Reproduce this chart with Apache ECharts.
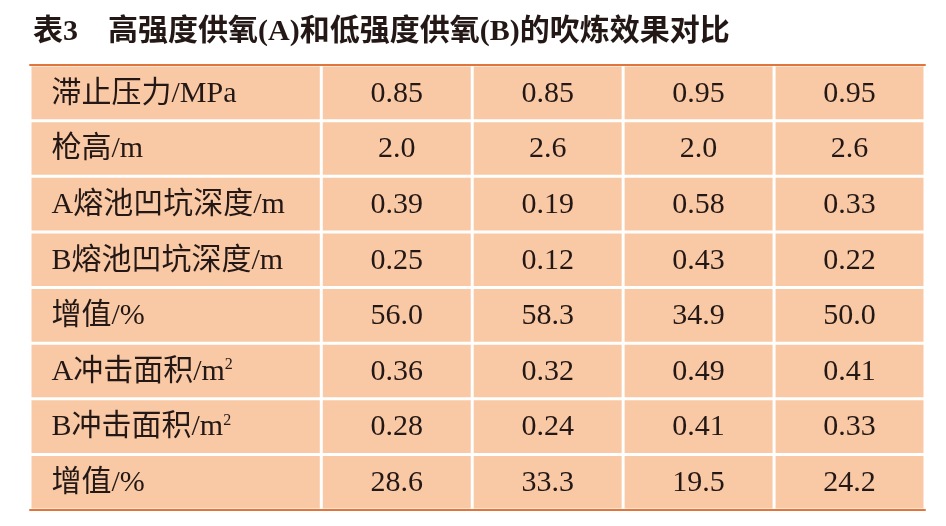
<!DOCTYPE html><html><head><meta charset="utf-8"><script src="https://cdn.jsdelivr.net/npm/echarts@6/dist/echarts.min.js"></script>
<style>html,body{margin:0;background:#fff}#c{width:946px;height:526px}</style></head><body><div id="c"></div><script>
const title='表3　高强度供氧(A)和低强度供氧(B)的吹炼效果对比';
const rowLabels=['滞止压力/MPa','枪高/m','A熔池凹坑深度/m','B熔池凹坑深度/m','增值/%','A冲击面积/m{sup|2}','B冲击面积/m{sup|2}','增值/%'];
const col1=['0.85','2.0','0.39','0.25','56.0','0.36','0.28','28.6'];
const col2=['0.85','2.6','0.19','0.12','58.3','0.32','0.24','33.3'];
const col3=['0.95','2.0','0.58','0.43','34.9','0.49','0.41','19.5'];
const col4=['0.95','2.6','0.33','0.22','50.0','0.41','0.33','24.2'];
const cols=[rowLabels,col1,col2,col3,col4];
const edges=[0,1.93,2.93,3.93,4.93,5.93];
const data=[];
cols.forEach((c,ci)=>c.forEach((v,ri)=>data.push([ci,ri,v])));
const ch=echarts.init(document.getElementById('c'));
ch.setOption({
 title:{text:title,left:28,top:12,textStyle:{fontFamily:'"Liberation Serif","Noto Sans CJK SC"',fontWeight:'bold',fontSize:30,color:'#231815'}},
 grid:{left:30,right:21,top:65,bottom:16},
 xAxis:[{type:'value',min:0,max:5.93,axisLabel:{show:false},splitLine:{show:false},axisTick:{show:false},axisLine:{show:true,lineStyle:{color:'#E0763C',width:2}}},
        {type:'value',position:'top',min:0,max:5.93,axisLabel:{show:false},splitLine:{show:false},axisTick:{show:false},axisLine:{show:true,lineStyle:{color:'#E0763C',width:2}}}],
 yAxis:{type:'category',inverse:true,data:rowLabels.map((_,i)=>i),show:false},
 series:[{type:'custom',data:data,renderItem:(p,api)=>{
   const ci=api.value(0),ri=api.value(1),txt=data[p.dataIndex][2];
   const a=api.coord([edges[ci],ri]),b=api.coord([edges[ci+1],ri]);
   const h=api.size([0,1])[1];
   const x=a[0]+1.5,y=a[1]-h/2+1.5,w=b[0]-a[0]-3,hh=h-3;
   return {type:'group',children:[
    {type:'rect',shape:{x:x,y:y,width:w,height:hh},style:{fill:'#F9C8A5'}},
    {type:'text',style:{text:txt,x:ci===0?x+20:x+w/2,y:a[1]+1,align:ci===0?'left':'center',verticalAlign:'middle',
      font:'30px "Liberation Serif","Noto Sans CJK SC"',fill:'#231815',
      rich:{sup:{fontSize:16,verticalAlign:'top',padding:[0,0,14,0],fontFamily:'Liberation Serif',fill:'#231815'}}}}
   ]};
 }}]
});
</script></body></html>
